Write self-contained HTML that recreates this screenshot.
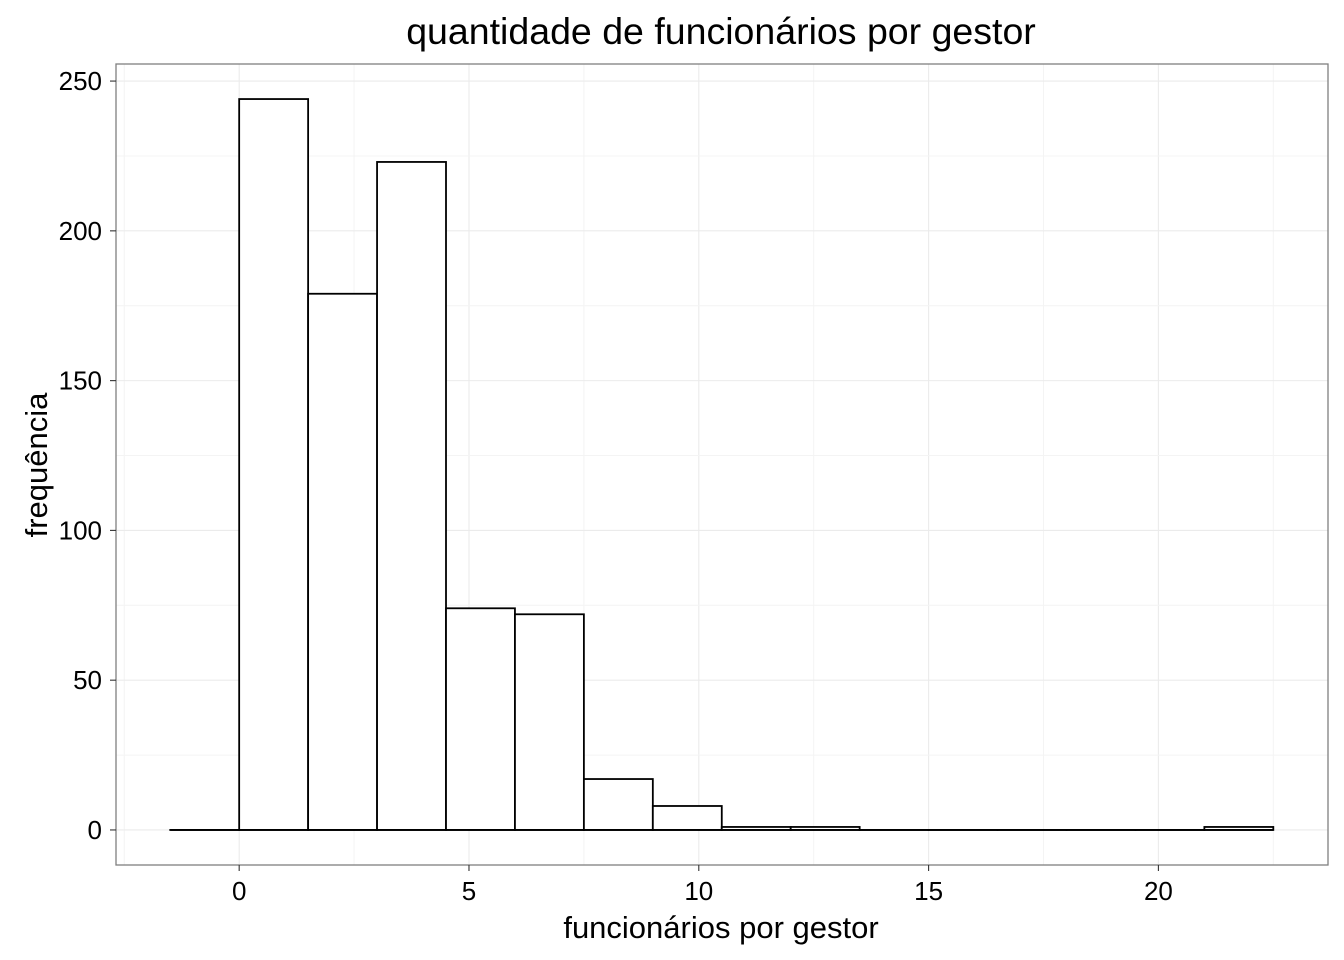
<!DOCTYPE html>
<html><head><meta charset="utf-8"><style>
body{margin:0;background:#fff}
svg{display:block;font-family:"Liberation Sans",Arial,sans-serif}
</style></head><body>
<svg id="chart" width="1344" height="960">
<rect width="1344" height="960" fill="#fff"/>
<text x="721" y="44" text-anchor="middle" font-size="37.5" fill="#000">quantidade de funcionários por gestor</text>
<g id="grid"></g>
<g id="bars"></g>
<rect x="116" y="64" width="1212" height="801" fill="none" stroke="#7f7f7f" stroke-width="1.3"/>
<g id="axes"></g>
<text x="721" y="938" text-anchor="middle" font-size="31">funcionários por gestor</text>
<text transform="translate(47,465) rotate(-90)" text-anchor="middle" font-size="31">frequência</text>
</svg>
<script>
const binStarts=[-1.5,0,1.5,3,4.5,6,7.5,9,10.5,12,13.5,15,16.5,18,19.5,21];
const counts=[0,244,179,223,74,72,17,8,1,1,0,0,0,0,0,1];
const binWidth=1.5;
const xTicks=[0,5,10,15,20];
const yTicks=[0,50,100,150,200,250];
const X0=116,X1=1328,Y0=64,Y1=865;
const xmin=-2.68,xmax=23.69,ymin=-11.7,ymax=255.7;
const xs=v=>X0+(v-xmin)/(xmax-xmin)*(X1-X0);
const ys=v=>Y1-(v-ymin)/(ymax-ymin)*(Y1-Y0);
const NS="http://www.w3.org/2000/svg";
function mk(t,a,p){const e=document.createElementNS(NS,t);for(const k in a)e.setAttribute(k,a[k]);p.appendChild(e);return e;}
const grid=document.getElementById('grid'),bars=document.getElementById('bars'),axes=document.getElementById('axes');
for(let i=0;i<xTicks.length;i++){
  const v=xTicks[i];
  let l=mk('line',{x1:xs(v),x2:xs(v),y1:Y0,y2:Y1,stroke:'#ebebeb','stroke-width':1.1},grid);
  
  
  const m=v+2.5;
  if(xs(m)<X1){let n=mk('line',{x1:xs(m),x2:xs(m),y1:Y0,y2:Y1,stroke:'#f4f4f4','stroke-width':1},grid);
  
  }
  let tk=mk('line',{x1:xs(v),x2:xs(v),y1:Y1,y2:Y1+6,stroke:'#333','stroke-width':1.1},axes);
  
  
  let t=mk('text',{x:xs(v),y:Y1+35,'text-anchor':'middle','font-size':26,fill:'#000'},axes);
  t.textContent=v;
  
  
}
{let n=mk('line',{x1:xs(-2.5),x2:xs(-2.5),y1:Y0,y2:Y1,stroke:'#f4f4f4','stroke-width':1},grid);

}
for(let i=0;i<yTicks.length;i++){
  const v=yTicks[i];
  let l=mk('line',{x1:X0,x2:X1,y1:ys(v),y2:ys(v),stroke:'#ebebeb','stroke-width':1.1},grid);
  
  
  const m=v+25;
  if(ys(m)>Y0){let n=mk('line',{x1:X0,x2:X1,y1:ys(m),y2:ys(m),stroke:'#f4f4f4','stroke-width':1},grid);
  
  }
  let tk=mk('line',{x1:X0-6,x2:X0,y1:ys(v),y2:ys(v),stroke:'#333','stroke-width':1.1},axes);
  
  
  let t=mk('text',{x:X0-14,y:ys(v)+9,'text-anchor':'end','font-size':26,fill:'#000'},axes);
  t.textContent=v;
  
  
}
for(let i=0;i<counts.length;i++){
  const x=xs(binStarts[i]),w=xs(binStarts[i]+binWidth)-x,y=ys(counts[i]),h=ys(0)-y;
  let r=mk('rect',{x:x,y:y,width:w,height:Math.max(h,0.01),fill:'#fff',stroke:'#000','stroke-width':1.8},bars);
  
  
}
{const b=mk('line',{x1:xs(binStarts[0]),x2:xs(binStarts[binStarts.length-1]+binWidth),y1:ys(0),y2:ys(0),stroke:'#000','stroke-width':1.8},bars);

}
</script>
</body></html>
